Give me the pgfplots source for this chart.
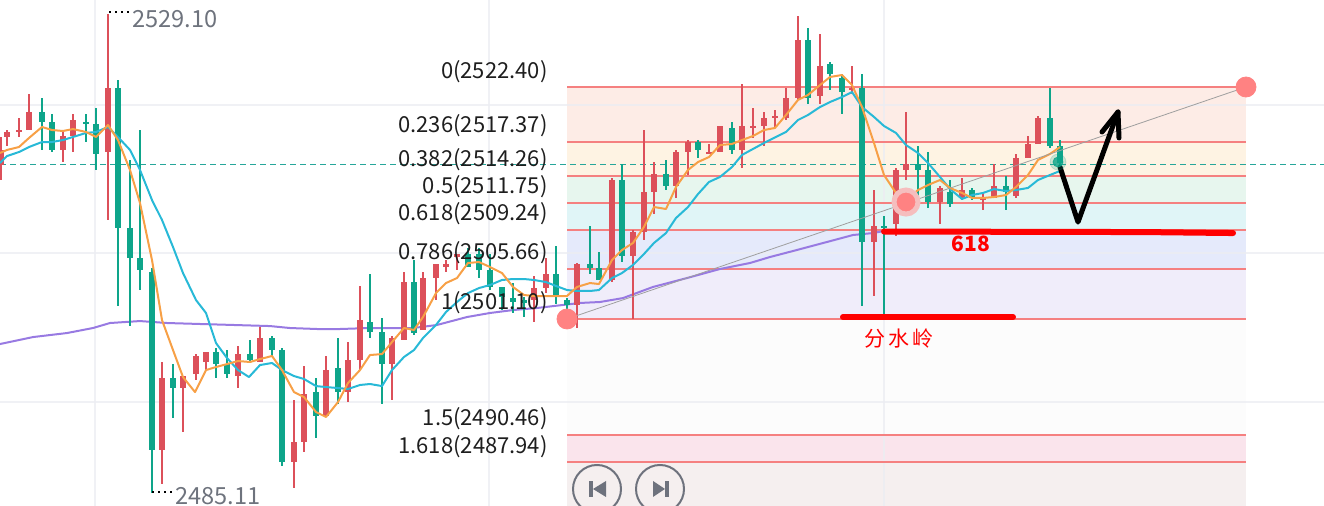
\documentclass[border=0pt]{standalone}
\usepackage{fontspec}
\setmainfont{Noto Sans CJK SC}
\usepackage{pgfplots}
\usepackage{pgfplotstable}
\pgfplotsset{compat=1.18}
\definecolor{upc}{RGB}{220,80,90}
\definecolor{downc}{RGB}{14,165,138}
\definecolor{ma5}{RGB}{247,160,70}
\definecolor{ma10}{RGB}{40,185,215}
\definecolor{ma60}{RGB}{152,122,226}
\definecolor{fibl}{RGB}{245,128,128}
\definecolor{fibdot}{RGB}{255,130,130}
\definecolor{gridc}{RGB}{236,237,242}
\definecolor{pricel}{RGB}{38,166,154}
\definecolor{lbl}{RGB}{30,30,30}
\definecolor{hl}{RGB}{110,115,125}
\definecolor{btn}{RGB}{110,114,125}
\definecolor{halo}{RGB}{245,190,190}
\definecolor{fa}{RGB}{253,236,230}
\definecolor{fb}{RGB}{254,243,227}
\definecolor{fc}{RGB}{231,246,238}
\definecolor{fd}{RGB}{224,245,247}
\definecolor{fe}{RGB}{229,234,251}
\definecolor{ff}{RGB}{240,237,250}
\definecolor{fg}{RGB}{252,252,252}
\definecolor{fh}{RGB}{250,228,236}
\definecolor{fi}{RGB}{245,239,239}

% x = bar position, o h l c = open high low close
\pgfplotstableread{
x o h l c
1 2515.24 2517.81 2513.86 2516.62
7 2517.81 2518.45 2516.98 2518.27
19 2518.27 2519.55 2517.81 2518.45
29 2518.45 2521.76 2518.45 2520.11
63 2516.62 2518.27 2515.51 2517.90
73 2517.90 2519.92 2516.43 2519.37
108 2516.43 2529.10 2510.19 2522.31
162 2489.07 2497.15 2485.94 2495.68
183 2494.76 2495.86 2490.72 2495.86
196 2496.05 2497.88 2495.50 2497.70
206 2497.15 2498.07 2496.41 2498.07
238 2495.86 2498.62 2494.76 2497.88
260 2497.15 2500.36 2497.15 2499.35
294 2487.96 2493.66 2485.58 2489.80
304 2489.80 2496.78 2488.88 2494.21
326 2492.19 2497.70 2492.19 2496.41
348 2494.39 2498.98 2493.47 2497.33
360 2497.33 2504.13 2496.41 2501.00
392 2496.96 2499.54 2493.66 2499.35
404 2499.17 2505.41 2499.17 2504.49
423 2500.09 2505.41 2500.09 2504.86
436 2504.86 2506.15 2502.84 2506.15
446 2505.87 2506.51 2505.41 2506.15
457 2506.79 2507.07 2505.60 2507.07
534 2502.84 2505.04 2500.82 2503.94
546 2503.94 2506.70 2503.48 2505.23
577 2502.38 2506.24 2500.27 2506.15
612 2504.68 2514.04 2504.49 2513.86
633 2506.88 2509.27 2501.10 2509.09
644 2509.09 2518.45 2508.35 2512.76
654 2512.76 2515.51 2510.74 2514.41
676 2513.31 2516.62 2512.21 2516.43
688 2516.43 2517.53 2514.32 2517.35
709 2516.25 2517.17 2516.25 2516.43
720 2516.43 2518.82 2516.43 2518.82
742 2516.62 2522.68 2514.96 2518.82
753 2518.64 2520.47 2517.72 2518.82
764 2518.82 2520.11 2516.98 2519.55
775 2519.55 2520.29 2518.64 2519.74
786 2519.55 2522.31 2519.37 2521.39
798 2521.39 2528.90 2521.21 2526.72
820 2521.57 2527.27 2520.84 2524.33
852 2522.13 2524.33 2521.76 2522.31
874 2508.17 2512.94 2503.21 2509.64
896 2509.82 2514.96 2508.72 2514.78
906 2514.78 2520.11 2513.86 2515.33
940 2511.84 2513.31 2509.82 2513.13
962 2512.21 2514.04 2512.02 2512.94
983 2512.02 2512.57 2511.11 2512.21
994 2512.21 2515.33 2512.21 2513.31
1016 2512.39 2516.25 2512.21 2515.88
1028 2515.88 2517.90 2515.88 2517.17
1038 2517.17 2519.74 2517.17 2519.55
}\upbars

\pgfplotstableread{
x o h l c
42 2520.11 2521.39 2516.62 2519.19
52 2519.19 2519.92 2516.43 2516.62
86 2519.19 2519.92 2517.35 2519.00
96 2519.00 2520.47 2514.78 2516.25
118 2522.31 2523.04 2502.29 2509.45
130 2509.45 2515.70 2500.45 2506.70
140 2506.70 2518.45 2503.76 2505.60
152 2505.41 2505.78 2485.11 2489.07
173 2495.68 2496.96 2492.01 2494.76
216 2498.07 2498.43 2495.68 2496.96
227 2496.96 2498.25 2495.68 2496.05
250 2497.88 2499.17 2497.15 2497.33
272 2499.35 2499.54 2497.70 2498.25
282 2498.25 2498.43 2487.60 2487.96
316 2494.39 2495.68 2490.17 2492.19
338 2496.60 2499.35 2493.29 2494.39
370 2500.82 2505.23 2499.35 2499.90
382 2499.90 2501.19 2493.29 2496.96
414 2504.49 2506.51 2499.63 2499.81
468 2507.07 2507.62 2505.87 2505.87
479 2507.07 2507.62 2504.86 2505.60
490 2505.60 2507.07 2503.76 2504.04
502 2504.04 2504.04 2501.92 2503.12
513 2503.02 2504.40 2501.65 2502.66
524 2502.84 2503.12 2501.28 2502.57
556 2505.23 2507.80 2502.47 2503.21
567 2502.84 2503.02 2501.92 2502.38
590 2506.15 2509.64 2505.23 2505.78
599 2505.78 2507.25 2504.68 2504.68
622 2513.86 2515.33 2506.33 2506.88
666 2514.41 2515.70 2512.94 2513.31
698 2517.35 2517.53 2515.88 2516.62
732 2518.64 2519.19 2516.25 2516.62
808 2526.72 2527.82 2520.84 2521.39
830 2524.51 2524.70 2522.13 2523.59
842 2523.23 2523.59 2519.92 2521.94
862 2522.31 2523.59 2502.29 2508.17
884 2509.64 2510.55 2501.56 2509.45
918 2515.33 2516.98 2512.02 2514.78
928 2514.78 2516.43 2511.29 2511.84
950 2512.76 2513.86 2511.38 2511.66
972 2512.94 2513.13 2512.02 2512.21
1006 2513.31 2514.23 2511.11 2512.76
1050 2519.55 2522.31 2516.80 2516.98
1060 2516.98 2517.53 2515.05 2515.42
}\downbars

\pgfplotsset{
  wick/.style={draw=none, mark=none, forget plot,
    error bars/.cd, y dir=both, y explicit, error mark=none,
    error bar style={draw=#1, line width=1pt, solid}},
  body/.style={draw=none, mark=none, forget plot,
    error bars/.cd, y dir=both, y explicit, error mark=none,
    error bar style={draw=#1, line width=3pt, solid, line cap=butt}},
}

\begin{document}
\begin{tikzpicture}
\path[use as bounding box] (0,0) rectangle (662pt,253pt);
\clip (0,0) rectangle (662pt,253pt);
\begin{axis}[at={(0,0)}, anchor=south west, scale only axis,
  width=662pt, height=253pt,
  xmin=0, xmax=1324, ymin=2483.93, ymax=2530.39,
  hide axis, clip=false]

% fibonacci zones
\fill[fa] (axis cs:567,2522.40) rectangle (axis cs:1246,2517.37);
\fill[fb] (axis cs:567,2517.37) rectangle (axis cs:1246,2514.26);
\fill[fc] (axis cs:567,2514.26) rectangle (axis cs:1246,2511.75);
\fill[fd] (axis cs:567,2511.75) rectangle (axis cs:1246,2509.24);
\fill[fe] (axis cs:567,2509.24) rectangle (axis cs:1246,2505.66);
\fill[ff] (axis cs:567,2505.66) rectangle (axis cs:1246,2501.10);
\fill[fg] (axis cs:567,2501.10) rectangle (axis cs:1246,2490.46);
\fill[fh] (axis cs:567,2490.46) rectangle (axis cs:1246,2487.94);
\fill[fi] (axis cs:567,2487.94) rectangle (axis cs:1246,2483.93);

% grid
\draw[gridc, line width=1pt, opacity=0.8] (axis cs:0,2520.75) -- (axis cs:1324,2520.75);
\draw[gridc, line width=1pt, opacity=0.8] (axis cs:0,2507.16) -- (axis cs:1324,2507.16);
\draw[gridc, line width=1pt, opacity=0.8] (axis cs:0,2493.47) -- (axis cs:1324,2493.47);
\draw[gridc, line width=1pt, opacity=0.8] (axis cs:95,2483.93) -- (axis cs:95,2530.39);
\draw[gridc, line width=1pt, opacity=0.8] (axis cs:489,2483.93) -- (axis cs:489,2530.39);
\draw[gridc, line width=1pt, opacity=0.8] (axis cs:884,2483.93) -- (axis cs:884,2530.39);

% fib levels
\draw[fibl, line width=1pt] (axis cs:567,2522.40) -- (axis cs:1246,2522.40);
\draw[fibl, line width=1pt] (axis cs:567,2517.37) -- (axis cs:1246,2517.37);
\draw[fibl, line width=1pt] (axis cs:567,2514.26) -- (axis cs:1246,2514.26);
\draw[fibl, line width=1pt] (axis cs:567,2511.75) -- (axis cs:1246,2511.75);
\draw[fibl, line width=1pt] (axis cs:567,2509.24) -- (axis cs:1246,2509.24);
\draw[fibl, line width=1pt] (axis cs:567,2505.66) -- (axis cs:1246,2505.66);
\draw[fibl, line width=1pt] (axis cs:567,2501.10) -- (axis cs:1246,2501.10);
\draw[fibl, line width=1pt] (axis cs:567,2490.46) -- (axis cs:1246,2490.46);
\draw[fibl, line width=1pt] (axis cs:567,2487.94) -- (axis cs:1246,2487.94);

% last price
\draw[pricel, line width=0.5pt, dash pattern=on 3pt off 2pt] (axis cs:0,2515.24) -- (axis cs:1324,2515.24);

% long moving average
\addplot[ma60, line width=1pt] coordinates {(0,2498.80)(33,2499.44)(67,2499.81)(93,2500.27)(110,2500.73)(140,2500.91)(167,2500.73)(200,2500.64)(270,2500.45)(290,2500.27)(317,2500.18)(340,2500.18)(370,2500.27)(413,2500.27)(437,2500.55)(467,2501.28)(490,2501.65)(513,2501.92)(537,2502.11)(580,2502.57)(600,2502.66)(623,2503.02)(653,2504.04)(687,2504.86)(720,2505.69)(750,2506.24)(770,2506.79)(793,2507.34)(827,2508.17)(853,2508.81)(873,2508.99)(884,2509.18)};

% candles
\addplot[wick=upc] table[x=x, y expr={(\thisrow{h}+\thisrow{l})/2},
  y error plus expr={(\thisrow{h}-\thisrow{l})/2},
  y error minus expr={(\thisrow{h}-\thisrow{l})/2}] {\upbars};
\addplot[body=upc] table[x=x, y expr={(\thisrow{o}+\thisrow{c})/2},
  y error plus expr={max((\thisrow{c}-\thisrow{o})/2,0.06)},
  y error minus expr={max((\thisrow{c}-\thisrow{o})/2,0.06)}] {\upbars};
\addplot[wick=downc] table[x=x, y expr={(\thisrow{h}+\thisrow{l})/2},
  y error plus expr={(\thisrow{h}-\thisrow{l})/2},
  y error minus expr={(\thisrow{h}-\thisrow{l})/2}] {\downbars};
\addplot[body=downc] table[x=x, y expr={(\thisrow{o}+\thisrow{c})/2},
  y error plus expr={max((\thisrow{o}-\thisrow{c})/2,0.06)},
  y error minus expr={max((\thisrow{o}-\thisrow{c})/2,0.06)}] {\downbars};

% short moving averages
\addplot[ma10, line width=1pt, line join=round] coordinates {(0,2515.42)(7,2516.06)(19,2516.43)(29,2516.89)(42,2517.35)(52,2517.35)(63,2517.53)(73,2517.81)(86,2518.18)(96,2518.27)(108,2518.73)(118,2517.81)(130,2516.62)(140,2514.78)(152,2512.02)(162,2510.19)(173,2507.71)(183,2505.32)(196,2502.84)(206,2501.65)(216,2498.89)(227,2497.52)(238,2496.41)(249,2495.77)(260,2496.87)(272,2497.06)(282,2496.41)(294,2495.86)(304,2495.59)(316,2494.94)(326,2494.85)(338,2494.76)(348,2494.67)(360,2495.04)(370,2495.13)(382,2494.94)(392,2496.41)(404,2497.61)(414,2498.25)(423,2499.35)(436,2500.55)(446,2501.74)(457,2502.66)(468,2503.48)(479,2503.94)(490,2504.22)(502,2504.68)(513,2504.77)(524,2504.77)(534,2504.68)(546,2504.49)(556,2504.13)(567,2503.76)(577,2503.67)(590,2503.67)(599,2503.76)(612,2504.86)(622,2505.32)(633,2506.06)(644,2507.07)(654,2508.08)(666,2508.99)(676,2510.37)(688,2511.38)(698,2512.57)(709,2513.68)(720,2514.14)(732,2515.05)(742,2516.16)(753,2516.71)(764,2517.26)(786,2518.27)(798,2519.37)(808,2519.83)(820,2520.56)(830,2521.02)(842,2521.48)(852,2521.94)(862,2520.56)(874,2519.65)(884,2518.82)(896,2518.18)(906,2517.07)(918,2516.34)(928,2515.42)(940,2514.14)(950,2513.03)(962,2512.12)(972,2512.48)(983,2512.67)(994,2513.03)(1006,2512.85)(1016,2512.94)(1028,2513.13)(1038,2513.86)(1050,2514.32)(1060,2514.69)};
\addplot[ma5, line width=1pt, line join=round] coordinates {(0,2516.34)(7,2516.62)(19,2516.89)(29,2517.72)(42,2518.73)(52,2518.45)(63,2518.36)(73,2518.54)(86,2518.27)(96,2517.81)(108,2518.91)(118,2517.53)(130,2514.78)(140,2511.75)(152,2506.51)(162,2501.00)(173,2498.25)(183,2495.77)(195,2494.39)(206,2496.41)(216,2496.69)(227,2496.96)(238,2497.24)(250,2497.15)(260,2497.42)(272,2497.70)(282,2496.41)(294,2494.39)(304,2493.93)(316,2492.56)(326,2492.10)(338,2493.47)(348,2495.22)(360,2496.41)(370,2497.79)(382,2497.88)(392,2498.98)(404,2500.27)(414,2500.09)(423,2501.28)(436,2503.48)(446,2504.40)(457,2504.86)(468,2506.24)(479,2506.33)(490,2505.87)(502,2505.32)(513,2504.04)(524,2503.30)(534,2503.21)(546,2503.21)(556,2503.21)(567,2503.21)(577,2504.04)(590,2504.40)(599,2504.31)(612,2506.51)(622,2507.43)(633,2508.08)(644,2509.55)(654,2511.38)(666,2511.20)(676,2513.22)(688,2514.78)(698,2515.51)(709,2515.97)(720,2517.07)(732,2517.17)(742,2517.53)(753,2517.90)(764,2518.45)(775,2518.64)(786,2519.83)(798,2521.21)(808,2521.67)(820,2522.58)(830,2523.32)(842,2523.50)(852,2522.58)(862,2520.56)(874,2517.26)(884,2514.32)(896,2512.67)(906,2512.02)(918,2512.94)(928,2513.40)(940,2513.86)(950,2513.13)(962,2512.67)(972,2512.21)(983,2512.21)(994,2512.30)(1006,2512.48)(1016,2513.22)(1028,2514.32)(1038,2515.70)(1050,2516.25)(1060,2516.89)};

% fib trend line and handles
\addplot[gray!75, line width=0.4pt] coordinates {(567,2501.10) (1246,2522.40)};
\addplot[only marks, mark=*, mark size=5pt, fibdot, mark options={draw=none}] coordinates {(567,2501.10) (1246,2522.40)};
\addplot[only marks, mark=*, mark size=6pt, fibdot, mark options={draw=halo, fill=fibdot, line width=2.5pt}] coordinates {(906,2511.84)};
\addplot[only marks, mark=*, mark size=4pt, downc, opacity=0.2, mark options={draw=none}] coordinates {(1058,2515.51)};
\addplot[only marks, mark=*, mark size=2.5pt, downc, opacity=0.8, mark options={draw=none}] coordinates {(1058,2515.51)};

% level labels
\node[anchor=east, inner sep=0pt, text=lbl, font=\fontsize{11}{13}\selectfont] at (axis cs:548,2523.78) {0(2522.40)};
\node[anchor=east, inner sep=0pt, text=lbl, font=\fontsize{11}{13}\selectfont] at (axis cs:548,2518.82) {0.236(2517.37)};
\node[anchor=east, inner sep=0pt, text=lbl, font=\fontsize{11}{13}\selectfont] at (axis cs:548,2515.70) {0.382(2514.26)};
\node[anchor=east, inner sep=0pt, text=lbl, font=\fontsize{11}{13}\selectfont] at (axis cs:548,2513.22) {0.5(2511.75)};
\node[anchor=east, inner sep=0pt, text=lbl, font=\fontsize{11}{13}\selectfont] at (axis cs:548,2510.74) {0.618(2509.24)};
\node[anchor=east, inner sep=0pt, text=lbl, font=\fontsize{11}{13}\selectfont] at (axis cs:548,2507.16) {0.786(2505.66)};
\node[anchor=east, inner sep=0pt, text=lbl, font=\fontsize{11}{13}\selectfont] at (axis cs:548,2502.57) {1(2501.10)};
\node[anchor=east, inner sep=0pt, text=lbl, font=\fontsize{11}{13}\selectfont] at (axis cs:548,2491.91) {1.5(2490.46)};
\node[anchor=east, inner sep=0pt, text=lbl, font=\fontsize{11}{13}\selectfont] at (axis cs:548,2489.34) {1.618(2487.94)};

% high / low marks
\draw[black, line width=1pt, dash pattern=on 1pt off 2pt] (axis cs:109,2529.29) -- (axis cs:129,2529.29);
\node[anchor=west, inner sep=0pt, text=hl, font=\fontsize{11.8}{13}\selectfont] at (axis cs:132,2528.64) {2529.10};
\draw[black, line width=1pt, dash pattern=on 1pt off 2pt] (axis cs:152,2485.21) -- (axis cs:172,2485.21);
\node[anchor=south west, inner sep=0pt, text=hl, font=\fontsize{11.8}{13}\selectfont] at (axis cs:175,2483.97) {2485.11};

% hand-drawn marks
\addplot[red, line width=3pt, line cap=round] coordinates {(843,2501.28) (1013,2501.28)};
\addplot[red, line width=3pt, line cap=round] coordinates {(884,2509.13) (1145,2509.08) (1233,2508.99)};
\node[text=red, font=\fontsize{10.5}{12}\selectfont] at (axis cs:899,2499.35) {分\,水\,岭};
\node[text=red, font=\bfseries\fontsize{10.5}{12}\selectfont] at (axis cs:971,2507.98) {618};
\addplot[black, line width=2.5pt, line cap=round, line join=round] coordinates {(1060,2515.05) (1078,2510.00) (1118,2520.11)};
\addplot[black, line width=2.5pt, line cap=round, line join=round] coordinates {(1102,2518.27) (1118,2520.11) (1119,2517.72)};

\end{axis}

% replay buttons
\begin{scope}[x=0.5pt, y=-0.5pt, shift={(0pt,253pt)}]
\draw[btn, line width=1pt] (597,489) circle[radius=12pt];
\draw[btn, line width=1pt] (660,489) circle[radius=12pt];
\fill[btn] (589,481) rectangle (593,497);
\fill[btn] (606,481) -- (606,497) -- (593,489) -- cycle;
\fill[btn] (653,481) -- (653,497) -- (665,489) -- cycle;
\fill[btn] (665,481) rectangle (669,497);
\end{scope}
\end{tikzpicture}
\end{document}
